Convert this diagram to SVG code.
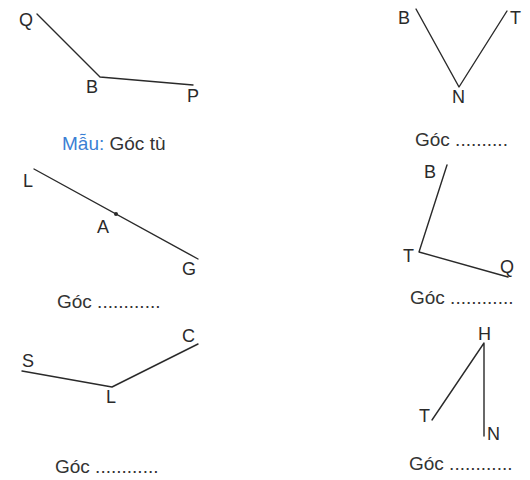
<svg xmlns="http://www.w3.org/2000/svg" width="530" height="480" viewBox="0 0 530 480">
<style>
.ln{fill:none;stroke:#2a2a2a;stroke-width:1.4;stroke-linecap:round;stroke-linejoin:round}
.lb{font-family:"Liberation Sans",Arial,sans-serif;font-size:18px;fill:#2a2a2a}
.cap{font-family:"Liberation Sans",Arial,sans-serif;font-size:19px;fill:#333}
.blue{fill:#3b7fd4}
</style>
<rect width="530" height="480" fill="#fff"/>
<g id="connectors">
<polyline class="ln" points="37,14 100,77 193,85"/>
<polyline class="ln" points="416,9 459,87 507,11"/>
<polyline class="ln" points="34,169 198,259"/>
<polyline class="ln" points="447,165 419,252 508,277"/>
<polyline class="ln" points="22,371 112,387 198,344"/>
<polyline class="ln" points="432,420 484,343 484,436"/>
</g>
<g id="angle-QBP">
<text class="lb" x="19" y="26">Q</text>
<text class="lb" x="86" y="93">B</text>
<text class="lb" x="187" y="102">P</text>
<text class="cap" x="62" y="150"><tspan class="blue">Mẫu:</tspan> Góc tù</text>
</g>
<g id="angle-BNT">
<text class="lb" x="398" y="24">B</text>
<text class="lb" x="510" y="24">T</text>
<text class="lb" x="452" y="103">N</text>
<text class="cap" x="415" y="146">Góc ..........</text>
</g>
<g id="angle-LAG">
<circle cx="116" cy="214" r="2" fill="#2a2a2a"/>
<text class="lb" x="23" y="187">L</text>
<text class="lb" x="97" y="233">A</text>
<text class="lb" x="182" y="275">G</text>
<text class="cap" x="57" y="308">Góc ............</text>
</g>
<g id="angle-BTQ">
<text class="lb" x="424" y="178">B</text>
<text class="lb" x="403" y="262">T</text>
<text class="lb" x="500" y="273">Q</text>
<text class="cap" x="410" y="304">Góc ............</text>
</g>
<g id="angle-SLC">
<text class="lb" x="182" y="342">C</text>
<text class="lb" x="22" y="367">S</text>
<text class="lb" x="106" y="403">L</text>
<text class="cap" x="55" y="473">Góc ............</text>
</g>
<g id="angle-THN">
<text class="lb" x="478" y="340">H</text>
<text class="lb" x="419" y="422">T</text>
<text class="lb" x="487" y="440">N</text>
<text class="cap" x="409" y="470">Góc ............</text>
</g>
</svg>
